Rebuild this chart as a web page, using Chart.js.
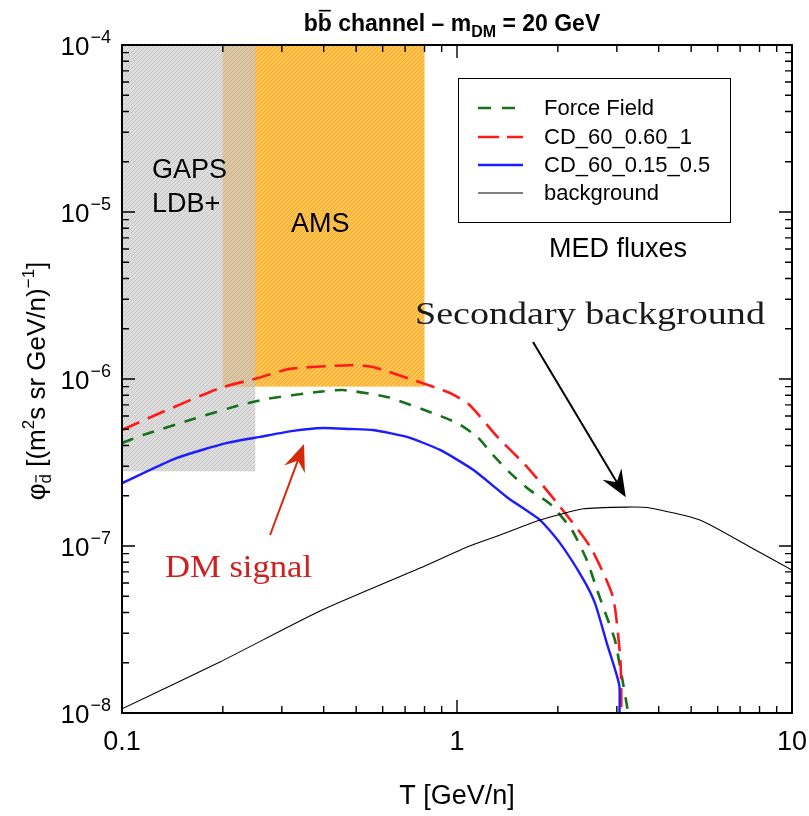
<!DOCTYPE html>
<html>
<head>
<meta charset="utf-8">
<title>bb channel - mDM = 20 GeV</title>
<script src="https://cdn.jsdelivr.net/npm/chart.js@4.4.1/dist/chart.umd.min.js"></script>
<style>
  html, body { margin: 0; padding: 0; background: #fff; }
  #wrap { width: 809px; height: 816px; }
</style>
</head>
<body>
<div id="wrap"><canvas id="fluxChart" width="809" height="816"></canvas></div>
<script>
// ---- data ----
const seriesNames = ['Force Field', 'CD_60_0.60_1', 'CD_60_0.15_0.5', 'background'];

const ffT    = [0.1, 0.1156, 0.163, 0.225, 0.271, 0.382, 0.457, 0.618, 0.847, 1.0, 1.15, 1.28, 1.44, 1.65, 1.90, 2.20, 2.44, 2.62, 2.80, 2.96, 3.13, 3.22, 3.24];
const ffFlux = [4.14e-7, 4.62e-7, 5.76e-7, 6.98e-7, 7.6e-7, 8.35e-7, 8.59e-7, 7.80e-7, 6.25e-7, 5.45e-7, 4.5e-7, 3.51e-7, 2.74e-7, 2.16e-7, 1.78e-7, 1.25e-7, 8.24e-8, 5.45e-8, 3.76e-8, 2.74e-8, 1.51e-8, 1.09e-8, 1e-8];

const cd1T    = [0.1, 0.132, 0.196, 0.253, 0.317, 0.48, 0.561, 0.74, 0.953, 1.09, 1.32, 1.62, 1.99, 2.50, 2.92, 3.07, 3.09, 3.095];
const cd1Flux = [4.95e-7, 6.34e-7, 8.83e-7, 1.01e-6, 1.15e-6, 1.21e-6, 1.18e-6, 9.86e-7, 8.24e-7, 6.98e-7, 4.5e-7, 2.97e-7, 1.81e-7, 9.86e-8, 4.95e-8, 2.17e-8, 1.51e-8, 1e-8];

const cd2T    = [0.1, 0.146, 0.206, 0.258, 0.324, 0.398, 0.48, 0.561, 0.709, 0.89, 1.12, 1.41, 1.77, 2.03, 2.38, 2.58, 2.80, 3.05, 3.055];
const cd2Flux = [2.38e-7, 3.37e-7, 4.14e-7, 4.5e-7, 4.89e-7, 5.09e-7, 5.02e-7, 4.95e-7, 4.5e-7, 3.76e-7, 2.85e-7, 1.96e-7, 1.43e-7, 1.04e-7, 6.34e-8, 4.56e-8, 2.62e-8, 1.47e-8, 1e-8];

const bgT    = [0.1, 0.196, 0.39, 0.776, 1.09, 1.34, 1.77, 2.38, 3.21, 3.77, 5.31, 7.49, 10];
const bgFlux = [1.06e-8, 2.02e-8, 4.08e-8, 7.38e-8, 1.0e-7, 1.16e-7, 1.43e-7, 1.67e-7, 1.71e-7, 1.69e-7, 1.43e-7, 9.86e-8, 7.18e-8];

// experiment sensitivity regions: [Tmin, Tmax, fluxMin, fluxMax]
const gapsBand = [0.1, 0.25, 2.8e-7, 1e-4];
const amsBand  = [0.2, 0.8, 9e-7, 1e-4];

// axes
const xMajorTicks = [0.1, 1, 10];
const xTickLabels = ['0.1', '1', '10'];
const xMinorTicks = [0.2, 0.3, 0.4, 0.5, 0.6, 0.7, 0.8, 0.9, 2, 3, 4, 5, 6, 7, 8, 9];
const yMajorTicks = [1e-8, 1e-7, 1e-6, 1e-5, 1e-4];
const yTickExps   = ['\u22128', '\u22127', '\u22126', '\u22125', '\u22124'];

const SANS = '"Liberation Sans", Arial, sans-serif';
const HAND = '"Liberation Serif", serif';

function pts(xs, ys) {
  return xs.map((x, i) => ({ x: x, y: ys[i] }));
}

function hatch(ctx, base, stripe) {
  const c = document.createElement('canvas');
  c.width = 4; c.height = 4;
  const g = c.getContext('2d');
  g.fillStyle = base;
  g.fillRect(0, 0, 4, 4);
  g.strokeStyle = stripe;
  g.lineWidth = 1;
  g.beginPath();
  g.moveTo(0, 4); g.lineTo(4, 0);
  g.moveTo(-1, 1); g.lineTo(1, -1);
  g.moveTo(3, 5); g.lineTo(5, 3);
  g.stroke();
  return ctx.createPattern(c, 'repeat');
}

// text made of pieces with sub/superscripts and overlines
function richWidth(ctx, segs) {
  let w = 0;
  segs.forEach(s => {
    ctx.font = (s.bold ? 'bold ' : '') + s.size + 'px ' + SANS;
    w += ctx.measureText(s.t).width;
  });
  return w;
}

function drawRich(ctx, segs, x, y) {
  let cx = x;
  segs.forEach(s => {
    ctx.font = (s.bold ? 'bold ' : '') + s.size + 'px ' + SANS;
    const w = ctx.measureText(s.t).width;
    ctx.fillText(s.t, cx, y + (s.dy || 0));
    if (s.over) {
      const oy = y + (s.dy || 0) - s.size * 0.92;
      ctx.fillRect(cx + 1, oy, w - 2, Math.max(1.2, s.size / 14));
    }
    cx += w;
  });
}

function arrow(ctx, x1, y1, x2, y2, color, len, half) {
  const a = Math.atan2(y2 - y1, x2 - x1);
  ctx.save();
  ctx.strokeStyle = color;
  ctx.fillStyle = color;
  ctx.lineWidth = 2;
  ctx.beginPath();
  ctx.moveTo(x1, y1);
  ctx.lineTo(x2 - Math.cos(a) * len * 0.6, y2 - Math.sin(a) * len * 0.6);
  ctx.stroke();
  ctx.translate(x2, y2);
  ctx.rotate(a);
  ctx.beginPath();
  ctx.moveTo(0, 0);
  ctx.lineTo(-len, -half);
  ctx.lineTo(-len * 0.65, 0);
  ctx.lineTo(-len, half);
  ctx.closePath();
  ctx.fill();
  ctx.restore();
}

function fitText(ctx, text, x, y, width, font, color) {
  ctx.save();
  ctx.font = font;
  ctx.fillStyle = color;
  ctx.textAlign = 'left';
  ctx.textBaseline = 'alphabetic';
  const w = ctx.measureText(text).width;
  ctx.translate(x, y);
  ctx.scale(width / w, 1);
  ctx.fillText(text, 0, 0);
  ctx.restore();
}

const lineStyles = [
  { color: '#17701a', width: 2.6, dash: [12, 10] },
  { color: '#ff1a1a', width: 2.6, dash: [19, 9] },
  { color: '#1c1cff', width: 2.4, dash: [] },
  { color: '#000000', width: 1.1, dash: [] }
];

const bandsPlugin = {
  id: 'bands',
  beforeDatasetsDraw(chart) {
    const ctx = chart.ctx;
    const xs = chart.scales.x, ys = chart.scales.y;
    const area = chart.chartArea;
    const rect = b => [xs.getPixelForValue(b[0]), ys.getPixelForValue(b[3]),
                       xs.getPixelForValue(b[1]), ys.getPixelForValue(b[2])];
    ctx.save();
    ctx.beginPath();
    ctx.rect(area.left, area.top, area.right - area.left, area.bottom - area.top);
    ctx.clip();

    const g = rect(gapsBand);
    ctx.fillStyle = hatch(ctx, '#dddddd', '#c6c6c6');
    ctx.fillRect(g[0], g[1], g[2] - g[0], g[3] - g[1]);

    const a = rect(amsBand);
    ctx.fillStyle = hatch(ctx, '#fdc454', '#f7a823');
    ctx.fillRect(a[0], a[1], a[2] - a[0], a[3] - a[1]);

    // overlap of both regions
    const ox1 = Math.max(g[0], a[0]), ox2 = Math.min(g[2], a[2]);
    const oy1 = Math.max(g[1], a[1]), oy2 = Math.min(g[3], a[3]);
    if (ox2 > ox1 && oy2 > oy1) {
      ctx.fillStyle = hatch(ctx, '#dcc8a4', '#c9b38d');
      ctx.fillRect(ox1, oy1, ox2 - ox1, oy2 - oy1);
    }
    ctx.restore();
  }
};

const framePlugin = {
  id: 'frame',
  afterDatasetsDraw(chart) {
    const ctx = chart.ctx;
    const xs = chart.scales.x, ys = chart.scales.y;
    const { left, right, top, bottom } = chart.chartArea;
    ctx.save();

    // box
    ctx.strokeStyle = '#000';
    ctx.lineWidth = 2;
    ctx.strokeRect(left, top, right - left, bottom - top);

    // ticks on all four sides, pointing inwards
    ctx.lineWidth = 1.4;
    ctx.beginPath();
    const xTick = (v, len) => {
      const p = xs.getPixelForValue(v);
      ctx.moveTo(p, bottom); ctx.lineTo(p, bottom - len);
      ctx.moveTo(p, top); ctx.lineTo(p, top + len);
    };
    const yTick = (v, len) => {
      const p = ys.getPixelForValue(v);
      ctx.moveTo(left, p); ctx.lineTo(left + len, p);
      ctx.moveTo(right, p); ctx.lineTo(right - len, p);
    };
    xMajorTicks.forEach(v => xTick(v, 13));
    xMinorTicks.forEach(v => xTick(v, 7));
    yMajorTicks.forEach(v => yTick(v, 13));
    yMajorTicks.slice(0, -1).forEach(v => {
      for (let k = 2; k <= 9; k++) yTick(v * k, 7);
    });
    ctx.stroke();

    ctx.fillStyle = '#000';

    // x tick labels
    ctx.font = '27px ' + SANS;
    ctx.textAlign = 'center';
    ctx.textBaseline = 'alphabetic';
    xMajorTicks.forEach((v, i) => {
      ctx.fillText(xTickLabels[i], xs.getPixelForValue(v), 750);
    });

    // y tick labels: 10 with a superscript exponent
    ctx.textAlign = 'left';
    yMajorTicks.forEach((v, i) => {
      const p = ys.getPixelForValue(v);
      ctx.font = '18px ' + SANS;
      const ew = ctx.measureText(yTickExps[i]).width;
      ctx.font = '26px ' + SANS;
      const bw = ctx.measureText('10').width;
      const xr = 111;
      ctx.fillText('10', xr - ew - bw - 1, p + 10);
      ctx.font = '18px ' + SANS;
      ctx.fillText(yTickExps[i], xr - ew, p - 2);
    });

    // x axis title
    ctx.font = '27px ' + SANS;
    ctx.textAlign = 'center';
    ctx.fillText('T [GeV/n]', (left + right) / 2, 804);

    // y axis title
    ctx.textAlign = 'left';
    const ySegs = [
      { t: '\u03c6', size: 26 },
      { t: 'd', size: 17, dy: 6, over: true },
      { t: ' [(m', size: 26 },
      { t: '2', size: 17, dy: -11 },
      { t: 's sr GeV/n)', size: 26 },
      { t: '\u22121', size: 17, dy: -11 },
      { t: ']', size: 26 }
    ];
    ctx.save();
    ctx.translate(45, 381);
    ctx.rotate(-Math.PI / 2);
    drawRich(ctx, ySegs, -richWidth(ctx, ySegs) / 2, 0);
    ctx.restore();

    // title
    const tSegs = [
      { t: 'b', size: 23, bold: true },
      { t: 'b', size: 23, bold: true, over: true },
      { t: ' channel \u2013 m', size: 23, bold: true },
      { t: 'DM', size: 16, bold: true, dy: 6 },
      { t: ' = 20 GeV', size: 23, bold: true }
    ];
    drawRich(ctx, tSegs, 452 - richWidth(ctx, tSegs) / 2, 31);

    // region labels
    ctx.font = '27px ' + SANS;
    ctx.fillText('GAPS', 152, 178);
    ctx.fillText('LDB+', 152, 212);
    ctx.fillText('AMS', 291, 232);
    ctx.textAlign = 'center';
    ctx.fillText('MED fluxes', 618, 257);

    // legend
    ctx.fillStyle = '#fff';
    ctx.fillRect(458, 78, 272, 144);
    ctx.strokeStyle = '#000';
    ctx.lineWidth = 1;
    ctx.strokeRect(458.5, 78.5, 272, 144);
    const rows = [108, 137, 165, 193];
    seriesNames.forEach((name, i) => {
      const st = lineStyles[i];
      ctx.beginPath();
      ctx.strokeStyle = st.color;
      ctx.lineWidth = st.width;
      ctx.setLineDash(i === 0 ? [13, 11] : i === 1 ? [21, 8] : []);
      ctx.moveTo(478, rows[i]);
      ctx.lineTo(523, rows[i]);
      ctx.stroke();
      ctx.setLineDash([]);
      ctx.fillStyle = '#000';
      ctx.font = '22px ' + SANS;
      ctx.textAlign = 'left';
      ctx.textBaseline = 'middle';
      ctx.fillText(name, 544, rows[i] + 1);
    });
    ctx.textBaseline = 'alphabetic';

    // annotations, placed in data coordinates
    const px = v => xs.getPixelForValue(v), py = v => ys.getPixelForValue(v);
    fitText(ctx, 'Secondary background', px(0.749), py(2.13e-6), 350, '32px ' + HAND, '#1a1a1a');
    arrow(ctx, px(1.686), py(1.667e-6), px(3.19), py(1.96e-7), '#000', 27, 11);
    fitText(ctx, 'DM signal', px(0.1344), py(6.5e-8), 147, '31px ' + HAND, '#d01f1f');
    arrow(ctx, px(0.2767), py(1.164e-7), px(0.3495), py(4.08e-7), '#d42a0a', 27, 11);

    ctx.restore();
  }
};

document.addEventListener('DOMContentLoaded', function() {
  const ctx = document.getElementById('fluxChart').getContext('2d');
  const sets = [pts(ffT, ffFlux), pts(cd1T, cd1Flux), pts(cd2T, cd2Flux), pts(bgT, bgFlux)];

  new Chart(ctx, {
    type: 'line',
    data: {
      datasets: sets.map((d, i) => ({
        label: seriesNames[i],
        data: d,
        borderColor: lineStyles[i].color,
        borderWidth: lineStyles[i].width,
        borderDash: lineStyles[i].dash,
        pointRadius: 0,
        fill: false,
        tension: 0.2
      })).reverse()
    },
    options: {
      responsive: false,
      animation: false,
      devicePixelRatio: 1,
      layout: { padding: { left: 122, right: 17, top: 45, bottom: 103 } },
      plugins: { legend: { display: false }, tooltip: { enabled: false } },
      scales: {
        x: { type: 'logarithmic', min: 0.1, max: 10, display: false },
        y: { type: 'logarithmic', min: 1e-8, max: 1e-4, display: false }
      }
    },
    plugins: [bandsPlugin, framePlugin]
  });
});
</script>
</body>
</html>
